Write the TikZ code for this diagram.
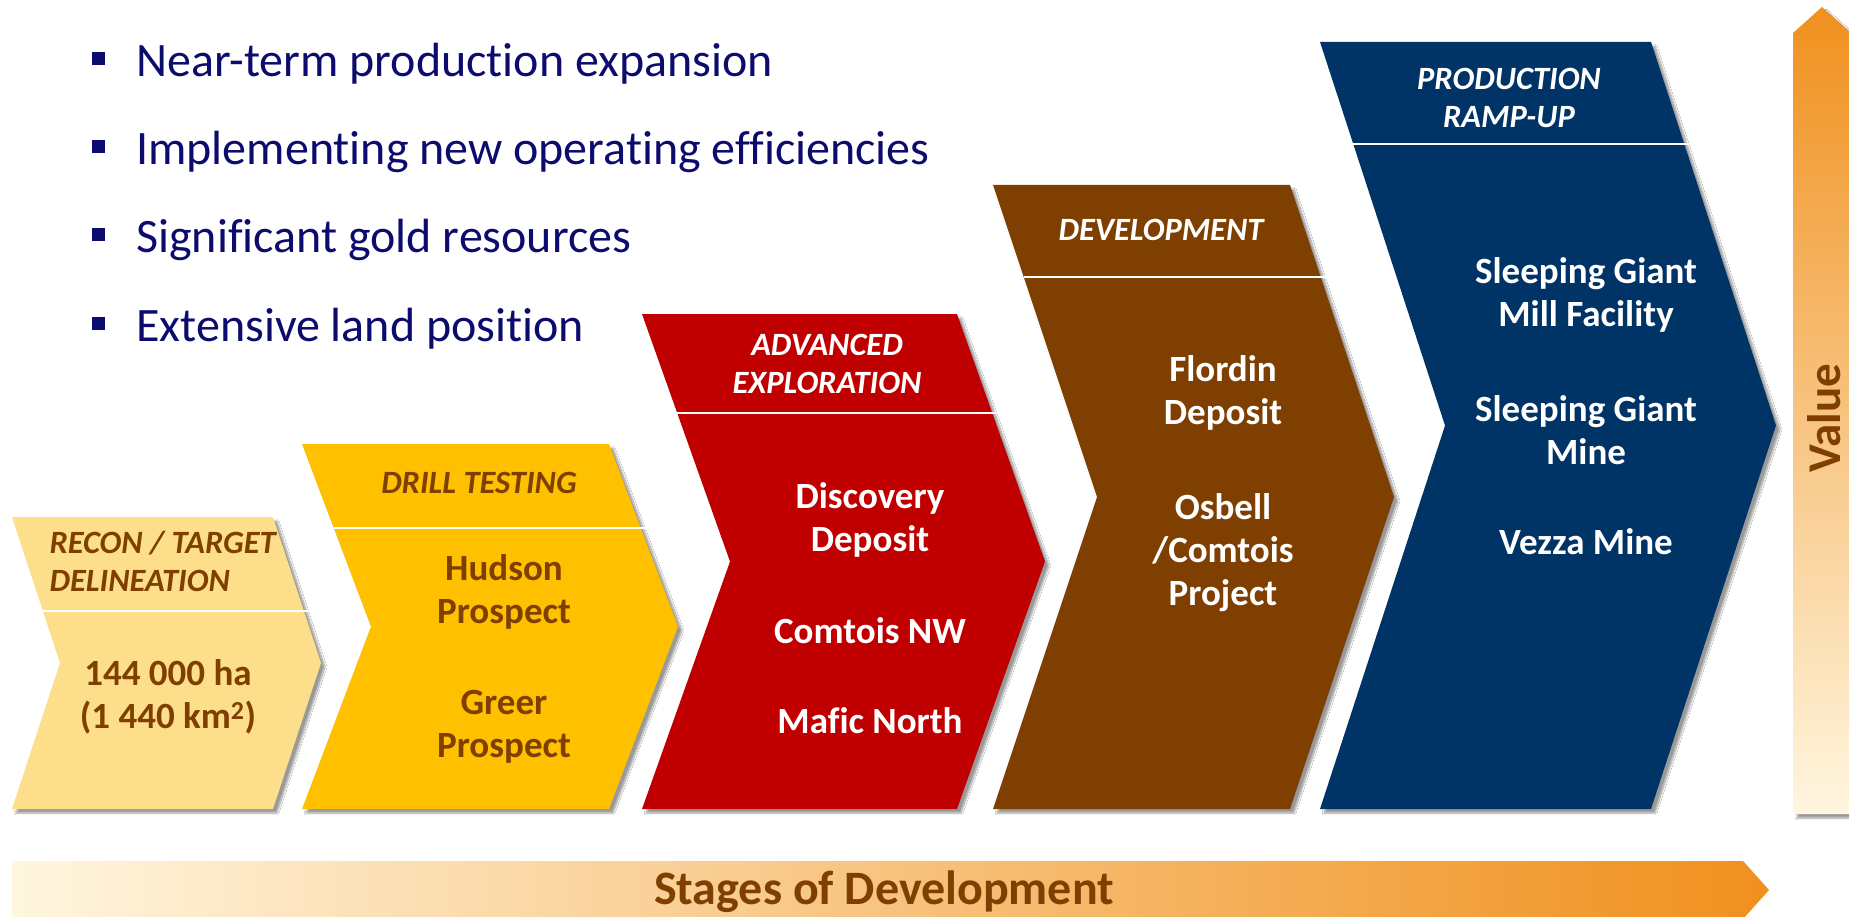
\documentclass[tikz,border=0pt]{standalone}
\usepackage{fontspec}
\setmainfont{Carlito}[Ligatures=CommonOff]
\usetikzlibrary{shadows.blur}

\definecolor{reconfill}{HTML}{FDDE8A}
\definecolor{drillfill}{HTML}{FFC000}
\definecolor{advfill}{HTML}{C00000}
\definecolor{devfill}{HTML}{7F3F00}
\definecolor{prodfill}{HTML}{003366}
\definecolor{bulletblue}{HTML}{0C0C6E}
\definecolor{labelbrown}{HTML}{7F3F00}
\definecolor{valueorange}{HTML}{F0901E}
\definecolor{valuecream}{HTML}{FFF6DF}

\begin{document}
\begin{tikzpicture}[x=1pt,y=-1pt,
        chev/.style={blur shadow={shadow xshift=4pt,shadow yshift=-4pt,shadow blur steps=6}},
        hdr/.style={font=\fontsize{32.5}{38}\selectfont\bfseries\itshape,align=center},
        body/.style={font=\fontsize{37}{43}\selectfont\bfseries,align=center},
        item/.style={font=\fontsize{48}{56}\selectfont,text=bulletblue,anchor=base west,inner sep=0pt},
        sq/.style={fill=bulletblue,minimum size=13pt,inner sep=0pt}]
        \fill[white] (0,0) rectangle (1849,917);
        \useasboundingbox (0,0) rectangle (1849,917);

        % bullet list
        \foreach \y/\txt [count=\i] in {59/Near-term production expansion,147/Implementing new operating efficiencies,235/Significant gold resources,323/Extensive land position}{
            \node[sq] (sq\i) at (98,\y) {};
            \node[item] (item\i) at (136,{\y+18}) {\txt};
        }

        % the five stage chevrons: left, right, top, point depth, divider, colour
        \foreach \l/\r/\t/\d/\s/\c in {12/273/517/48/611/reconfill,302/609/444/69/528/drillfill,642/957/314/88/413/advfill,993/1290/185/104/277/devfill,1320/1651/42/125/144/prodfill}{
            \fill[\c,chev] (\l,\t) -- (\r,\t) -- ({\r+\d},{(\t+809)/2}) -- (\r,809) -- (\l,809) -- ({\l+\d},{(\t+809)/2}) -- cycle;
            \draw[white,line width=2pt] ({\l+\d*((\s-\t)/(809-\t))*2},\s) -- ({\r+\d*((\s-\t)/(809-\t))*2+6},\s);
        }

        \node[hdr,text=labelbrown,align=left,anchor=west] (recon) at (46,561) {RECON / TARGET\\DELINEATION};
        \node[body,text=labelbrown] (area) at (168,697) {144 000 ha\\(1 440 km\textsuperscript{2})};

        \node[hdr,text=labelbrown] (drill) at (479,483) {DRILL TESTING};
        \node[body,text=labelbrown] (hudson) at (504,592) {Hudson\\Prospect};
        \node[body,text=labelbrown] (greer) at (504,727) {Greer\\Prospect};

        \node[hdr,text=white] (adv) at (827,364) {ADVANCED\\EXPLORATION};
        \node[body,text=white] (discovery) at (870,520) {Discovery\\Deposit};
        \node[body,text=white] (comtois) at (870,631) {Comtois NW};
        \node[body,text=white] (mafic) at (870,721) {Mafic North};

        \node[hdr,text=white] (dev) at (1161,230) {DEVELOPMENT};
        \node[body,text=white] (flordin) at (1223,393) {Flordin\\Deposit};
        \node[body,text=white] (osbell) at (1223,553) {Osbell\\/Comtois\\Project};

        \node[hdr,text=white] (prod) at (1509,98) {PRODUCTION\\RAMP-UP};
        \node[body,text=white] (millfac) at (1586,295) {Sleeping Giant\\Mill Facility};
        \node[body,text=white] (sgmine) at (1586,430) {Sleeping Giant\\Mine};
        \node[body,text=white] (vezza) at (1586,542) {Vezza Mine};

        % value axis
        \shade[top color=valueorange,bottom color=valuecream,chev] (1793,814) -- (1793,33) -- (1822,7) -- (1851,33) -- (1851,814) -- cycle;
        \node[rotate=90,font=\fontsize{47}{55}\selectfont\bfseries,text=labelbrown] (value) at (1824,418) {Value};

        % stages axis
        \shade[left color=valuecream,right color=valueorange] (12,861) -- (1743,861) -- (1769,890) -- (1743,919) -- (12,919) -- cycle;
        \node[font=\fontsize{48}{56}\selectfont\bfseries,text=labelbrown] (stages) at (884,892) {Stages of Development};
    \end{tikzpicture}
\end{document}
